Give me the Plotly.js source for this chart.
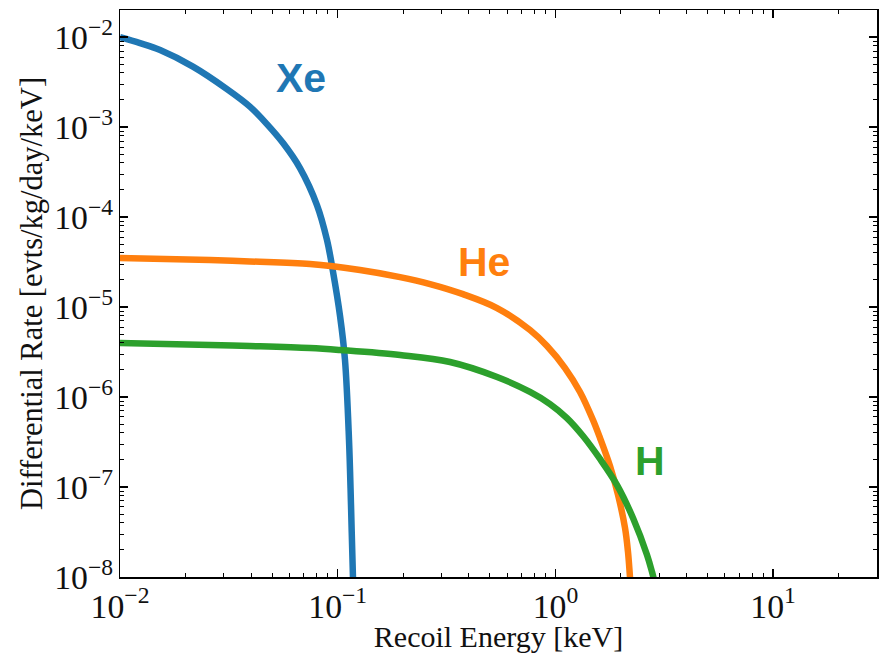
<!DOCTYPE html>
<html>
<head>
<meta charset="utf-8">
<script src="https://cdn.plot.ly/plotly-3.0.1.min.js"></script>
<style>html,body{margin:0;padding:0;background:#fff;}#chart{width:879px;height:653px;}</style>
</head>
<body>
<div id="chart"></div>
<script>
// Recoil energy [keV] and differential rate [evts/kg/day/keV]
const xeEnergy = [0.0100, 0.01236, 0.01528, 0.02163, 0.0310, 0.0395, 0.0473, 0.0561, 0.0671, 0.0803, 0.0893, 0.0952, 0.1025, 0.1080, 0.1127, 0.1151, 0.1175, 0.1190];
const xeRate   = [1.00e-2, 8.58e-3, 7.18e-3, 4.70e-3, 2.645e-3, 1.69e-3, 1.08e-3, 6.64e-4, 3.50e-4, 1.36e-4, 5.55e-5, 2.45e-5, 7.94e-6, 2.58e-6, 3.33e-7, 6.3e-8, 1.0e-8, 5e-9];

const heEnergy = [0.0100, 0.0259, 0.0395, 0.0746, 0.1266, 0.1933, 0.2655, 0.3762, 0.5394, 0.7644, 0.915, 1.107, 1.297, 1.488, 1.603, 1.781, 1.940, 2.088, 2.155, 2.202, 2.248];
const heRate   = [3.50e-5, 3.33e-5, 3.21e-5, 3.01e-5, 2.58e-5, 2.15e-5, 1.80e-5, 1.39e-5, 9.75e-6, 5.55e-6, 3.69e-6, 2.10e-6, 1.137e-6, 5.55e-7, 3.50e-7, 1.71e-7, 8.15e-8, 3.50e-8, 1.896e-8, 9.75e-9, 5e-9];

const hEnergy = [0.0100, 0.0259, 0.0395, 0.0746, 0.1025, 0.1933, 0.3280, 0.5394, 0.7644, 0.9445, 1.130, 1.339, 1.603, 1.919, 2.272, 2.635, 2.778, 2.899];
const hRate   = [3.98e-6, 3.79e-6, 3.69e-6, 3.50e-6, 3.33e-6, 2.93e-6, 2.45e-6, 1.67e-6, 1.14e-6, 8.36e-7, 5.84e-7, 3.69e-7, 2.05e-7, 1.052e-7, 4.52e-8, 1.757e-8, 1.137e-8, 7.55e-9];

const seriesNames = ['Xe', 'He', 'H'];

// tick labels (powers of ten shown with superscripts)
const xTickAlias = {'1': '10<sup>0</sup>', '10': '10<sup>1</sup>'};

const colors = ['#1f77b4', '#ff7f0e', '#2ca02c'];
const serif = 'Liberation Serif, DejaVu Serif, serif';

const lineStyle = c => ({color: c, width: 6.5, shape: 'spline', smoothing: 1.0});
const traces = [
  {x: xeEnergy, y: xeRate, name: seriesNames[0], mode: 'lines', line: lineStyle(colors[0])},
  {x: heEnergy, y: heRate, name: seriesNames[1], mode: 'lines', line: lineStyle(colors[1])},
  {x: hEnergy, y: hRate, name: seriesNames[2], mode: 'lines', line: lineStyle(colors[2])}
];

const xRange = [-2, Math.log10(30)];
const yRange = [-8, Math.log10(0.02)];

const axisCommon = {
  type: 'log',
  showgrid: false,
  zeroline: false,
  showline: true,
  linecolor: 'black',
  linewidth: 1.5,
  mirror: 'allticks',
  ticks: 'inside',
  ticklen: 8,
  tickwidth: 1.3,
  tickcolor: 'black',
  tickmode: 'linear',
  tick0: 0,
  dtick: 1,
  exponentformat: 'power',
  layer: 'above traces',
  tickfont: {family: serif, size: 27, color: '#111'},
  minor: {dtick: 'D1', ticks: 'inside', ticklen: 4, tickwidth: 1, tickcolor: 'black', showgrid: false}
};

const labelFont = {family: 'Liberation Sans, Arial, sans-serif', size: 41, weight: 'bold'};

const layout = {
  width: 879, height: 653,
  margin: {l: 120, r: 2, t: 10, b: 76},
  paper_bgcolor: 'white',
  plot_bgcolor: 'white',
  showlegend: false,
  xaxis: Object.assign({}, axisCommon, {
    range: xRange,
    labelalias: xTickAlias,
    title: {text: 'Recoil Energy [keV]', font: {family: serif, size: 30, color: '#111'}, standoff: 9}
  }),
  yaxis: Object.assign({}, axisCommon, {
    range: yRange,
    title: {text: 'Differential Rate [evts/kg/day/keV]', font: {family: serif, size: 30.5, color: '#111'}, standoff: 2}
  }),
  annotations: [
    {x: -1.1686, y: -2.456, xref: 'x', yref: 'y', text: seriesNames[0], showarrow: false, font: Object.assign({color: colors[0]}, labelFont)},
    {x: -0.328, y: -4.5, xref: 'x', yref: 'y', text: seriesNames[1], showarrow: false, font: Object.assign({color: colors[1]}, labelFont)},
    {x: 0.4345, y: -6.711, xref: 'x', yref: 'y', text: seriesNames[2], showarrow: false, font: Object.assign({color: colors[2]}, labelFont)}
  ]
};

Plotly.newPlot('chart', traces, layout, {staticPlot: true, displayModeBar: false});
</script>
</body>
</html>
